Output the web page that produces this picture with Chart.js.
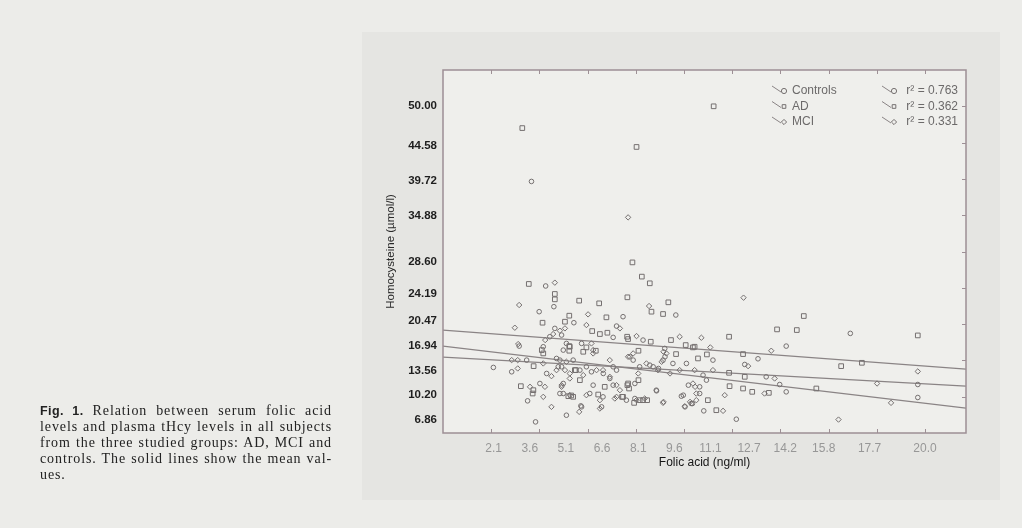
<!DOCTYPE html>
<html>
<head>
<meta charset="utf-8">
<script src="https://cdn.jsdelivr.net/npm/chart.js@4.4.1/dist/chart.umd.min.js"></script>
<style>
  html, body { margin: 0; padding: 0; }
  body { width: 1022px; height: 528px; background: #ecece9; position: relative; overflow: hidden; }
  #figbox { position: absolute; left: 362px; top: 32px; width: 638px; height: 468px; background: #e5e5e2; }
  #wrap { position: absolute; left: 0; top: 0; width: 1022px; height: 528px; }
  #caption {
    position: absolute; left: 40px; top: 403px; width: 292px;
    font-family: "Liberation Serif", "DejaVu Serif", serif; font-size: 14px; line-height: 16px; color: #222;
    letter-spacing: 0.9px;
  }
  #caption div { text-align: justify; text-align-last: justify; white-space: nowrap; }
  #caption div.last { text-align-last: left; }
  #caption b { font-family: "Liberation Sans", Arial, sans-serif; font-size: 12.5px; letter-spacing: 0.4px; }
</style>
</head>
<body>
<div id="figbox"></div>
<div id="wrap"><canvas id="chart" width="1022" height="528"></canvas></div>
<div id="caption">
  <div><b>Fig. 1.</b> Relation between serum folic acid</div>
  <div>levels and plasma tHcy levels in all subjects</div>
  <div>from the three studied groups: AD, MCI and</div>
  <div>controls. The solid lines show the mean val-</div>
  <div class="last">ues.</div>
</div>
<script>
/* ── Axis labels ─────────────────────────────────────────────── */
const xLabels = [2.1, 3.6, 5.1, 6.6, 8.1, 9.6, 11.1, 12.7, 14.2, 15.8, 17.7, 20.0];
const yLabels = [6.86, 10.20, 13.56, 16.94, 20.47, 24.19, 28.60, 34.88, 39.72, 44.58, 50.00];
const xMinor = [2, 4, 6, 8, 10, 12, 14, 16, 18, 20];
const yMinor = [10, 15, 20, 25, 30, 35, 40, 45, 50];

/* ── Groups / fits ───────────────────────────────────────────── */
const groupNames = ['Controls', 'AD', 'MCI'];
const rSquared = [0.763, 0.362, 0.331];
const fitX = [0, 21.7];
const fitControls = [16.97, 8.42];
const fitAD = [19.18, 13.8];
const fitMCI = [15.46, 11.45];

/* ── Subjects: [folic acid, homocysteine] ────────────────────── */
const adPoints = [
  [3.29, 47.0], [8.03, 44.4], [7.86, 28.5], [11.23, 50.0],
  [3.56, 25.53], [4.64, 24.15], [4.64, 23.41], [5.65, 23.23], [6.48, 22.86], [7.65, 23.69],
  [8.25, 26.54], [8.58, 25.62], [8.65, 21.71], [9.35, 23.0], [9.13, 21.39], [6.78, 20.93],
  [4.13, 20.19], [5.06, 20.33], [5.24, 21.16], [6.19, 19.04], [6.51, 18.63], [6.82, 18.81],
  [7.64, 18.26], [7.68, 17.94], [8.62, 17.57], [9.46, 17.80], [9.67, 15.87], [10.07, 17.11],
  [10.37, 16.79], [4.10, 16.42], [4.16, 15.96], [3.76, 14.21], [5.24, 16.97], [5.24, 16.33],
  [5.95, 16.79], [6.34, 16.33], [5.51, 13.66], [5.68, 12.28], [3.23, 11.45], [3.75, 10.90],
  [3.72, 10.44], [5.20, 10.07], [5.32, 10.17], [6.44, 10.30], [7.65, 11.59], [7.72, 11.13],
  [8.11, 12.28], [7.43, 9.98], [7.93, 9.15], [8.16, 9.52], [8.30, 9.52], [8.47, 9.52],
  [8.11, 16.33], [14.97, 21.11], [13.86, 19.27], [14.68, 19.18], [19.70, 18.44], [11.87, 18.26],
  [12.45, 15.87], [10.44, 16.88], [10.95, 15.82], [10.58, 15.27], [16.52, 14.21], [17.38, 14.67],
  [11.87, 13.29], [12.52, 12.74], [11.89, 11.45], [12.45, 11.13], [12.83, 10.67], [13.52, 10.53],
  [15.49, 11.13], [10.99, 9.52], [11.34, 8.14], [5.26, 16.88], [5.82, 16.19], [5.47, 13.66],
  [5.40, 9.98], [6.71, 11.36], [7.68, 11.82], [7.47, 9.98]
];

const controlPoints = [
  [4.26, 25.25], [4.60, 22.40], [7.47, 21.02], [9.66, 21.25], [3.99, 21.71], [5.43, 20.19],
  [7.20, 19.73], [7.06, 18.17], [8.30, 17.80], [9.20, 16.65], [3.16, 16.97], [4.43, 18.26],
  [4.64, 19.41], [4.92, 18.49], [4.16, 16.88], [3.47, 15.04], [2.85, 13.43], [2.09, 14.03],
  [4.30, 13.20], [5.12, 17.34], [5.75, 17.34], [4.85, 15.04], [5.40, 15.04], [5.68, 13.66],
  [4.92, 14.12], [5.95, 14.12], [6.65, 13.20], [7.06, 14.12], [7.20, 13.66], [7.89, 15.04],
  [8.16, 14.12], [8.72, 14.12], [9.13, 15.04], [9.54, 14.58], [10.10, 14.58], [3.51, 9.43],
  [4.02, 11.82], [4.85, 10.44], [4.99, 11.82], [5.72, 8.74], [5.12, 7.45], [6.09, 10.44],
  [6.58, 8.60], [7.06, 11.59], [7.96, 11.82], [7.61, 9.52], [8.86, 10.81], [9.89, 10.07],
  [10.30, 9.06], [3.84, 6.53], [16.90, 18.72], [14.24, 16.97], [13.07, 15.22], [11.20, 15.04],
  [12.52, 14.44], [13.41, 12.74], [13.97, 11.68], [19.70, 11.68], [14.24, 10.67], [12.17, 6.90],
  [19.70, 9.89], [10.82, 8.05], [10.65, 10.44], [10.35, 9.06], [10.79, 12.97], [10.93, 12.28],
  [10.65, 11.36], [9.21, 15.50], [8.94, 13.89], [10.18, 11.59], [9.97, 10.21], [10.04, 8.60],
  [3.67, 39.65], [4.99, 16.42], [4.71, 15.27], [4.78, 14.12], [6.16, 13.43], [6.92, 12.51],
  [4.99, 10.44], [6.23, 11.59], [6.64, 9.98], [7.96, 9.75], [5.75, 8.60], [8.58, 14.35],
  [8.85, 10.90]
];

const mciPoints = [
  [4.64, 25.71], [6.02, 21.34], [8.55, 22.49], [3.16, 22.63], [2.98, 19.50], [5.95, 19.87],
  [7.34, 19.41], [8.03, 18.35], [9.82, 18.26], [3.12, 17.25], [4.24, 17.80], [4.57, 18.63],
  [4.85, 19.09], [5.06, 19.41], [3.10, 15.04], [2.85, 15.04], [3.10, 13.89], [4.16, 14.58],
  [4.50, 12.83], [6.16, 17.34], [6.23, 15.96], [5.12, 14.81], [5.26, 13.20], [5.26, 12.51],
  [4.71, 13.66], [6.37, 13.66], [6.92, 15.04], [6.92, 12.74], [7.68, 15.50], [7.89, 15.96],
  [8.44, 14.58], [8.92, 13.66], [9.27, 15.96], [9.82, 13.66], [3.61, 11.36], [4.16, 9.98],
  [4.23, 11.36], [4.92, 11.36], [4.50, 8.60], [5.65, 7.91], [5.95, 10.21], [6.51, 9.52],
  [6.51, 8.37], [7.34, 10.90], [7.20, 9.98], [8.03, 9.52], [9.13, 9.15], [10.03, 8.69],
  [10.51, 10.44], [12.47, 23.64], [10.72, 18.12], [13.62, 16.33], [11.09, 16.79], [19.70, 13.48],
  [12.66, 14.21], [13.76, 12.51], [18.01, 11.82], [13.34, 10.44], [11.69, 10.21], [18.59, 9.15],
  [16.41, 6.85], [11.62, 8.05], [10.51, 9.52], [11.20, 13.66], [10.44, 13.66], [10.37, 11.82],
  [9.15, 16.19], [9.07, 14.81], [9.42, 13.20], [10.46, 11.36], [10.25, 9.29], [9.15, 9.29],
  [7.68, 34.7], [6.23, 16.42], [5.06, 13.66], [5.82, 12.97], [6.64, 13.66], [4.92, 11.59],
  [5.26, 10.21], [7.20, 11.59], [7.13, 9.75], [8.37, 9.75], [7.75, 15.50], [8.10, 13.20]
];

/* ── Styles ──────────────────────────────────────────────────── */
const MARK = '#757070';
const FIT = '#8a8485';
const FRAME = '#9d8f95';
const PLOT_BG = '#efefec';
const styles = [
  { style: 'circle', radius: 2.3 },
  { style: 'rect', radius: 3.3 },
  { style: 'rectRot', radius: 2.7 }
];

const toXY = pts => pts.map(p => ({ x: p[0], y: p[1] }));
const fitLine = ys => fitX.map((x, i) => ({ x, y: ys[i] }));

function scatterSet(label, pts, st) {
  return {
    type: 'scatter', label, data: toXY(pts),
    pointStyle: st.style, pointRadius: st.radius, pointHoverRadius: st.radius,
    borderColor: MARK, backgroundColor: 'rgba(0,0,0,0)', pointBorderWidth: 1
  };
}
function fitSet(label, ys) {
  return {
    type: 'line', label, data: fitLine(ys),
    borderColor: FIT, borderWidth: 1.2, pointRadius: 0, fill: false
  };
}

/* ── Frame, inward ticks and in-plot legend ──────────────────── */
const framePlugin = {
  id: 'frame',
  beforeDatasetsDraw(chart) {
    const { ctx, chartArea: a } = chart;
    ctx.save();
    ctx.fillStyle = PLOT_BG;
    ctx.fillRect(a.left, a.top, a.right - a.left, a.bottom - a.top);
    ctx.restore();
  },
  afterDatasetsDraw(chart) {
    const { ctx, chartArea: a, scales } = chart;
    ctx.save();
    ctx.strokeStyle = FRAME;
    ctx.lineWidth = 1.5;
    ctx.strokeRect(a.left, a.top, a.right - a.left, a.bottom - a.top);

    ctx.lineWidth = 1;
    ctx.beginPath();
    xMinor.forEach(v => {
      const px = Math.round(scales.x.getPixelForValue(v)) + 0.5;
      ctx.moveTo(px, a.bottom); ctx.lineTo(px, a.bottom - 4);
      ctx.moveTo(px, a.top); ctx.lineTo(px, a.top + 4);
    });
    yMinor.forEach(v => {
      const py = Math.round(scales.y.getPixelForValue(v)) + 0.5;
      ctx.moveTo(a.right, py); ctx.lineTo(a.right - 4, py);
    });
    ctx.stroke();

    // legend rows: names on the left column, r² on the right column
    ctx.font = '12px "Liberation Sans", Arial, sans-serif';
    ctx.textBaseline = 'middle';
    groupNames.forEach((name, g) => {
      const y = a.top + 21 + g * 15.5;
      const nx = a.right - 174;
      const rx = a.right - 8;
      [nx - 20, rx - 76].forEach(gx => {
        ctx.strokeStyle = FIT;
        ctx.lineWidth = 1;
        ctx.beginPath();
        ctx.moveTo(gx, y - 5); ctx.lineTo(gx + 9, y + 1);
        ctx.stroke();
        ctx.strokeStyle = MARK;
        ctx.fillStyle = PLOT_BG;
        Chart.helpers.drawPoint(ctx, { pointStyle: styles[g].style, radius: 2.6, borderWidth: 1 }, gx + 12, y);
      });
      ctx.fillStyle = '#6c6a6a';
      ctx.textAlign = 'left';
      ctx.fillText(name, nx, y);
      ctx.textAlign = 'right';
      ctx.fillText('r² = ' + rSquared[g].toFixed(3), rx, y);
    });
    ctx.restore();
  }
};

/* ── Chart ───────────────────────────────────────────────────── */
new Chart(document.getElementById('chart'), {
  data: {
    datasets: [
      scatterSet(groupNames[0], controlPoints, styles[0]),
      scatterSet(groupNames[1], adPoints, styles[1]),
      scatterSet(groupNames[2], mciPoints, styles[2]),
      fitSet(groupNames[0] + ' fit', fitControls),
      fitSet(groupNames[1] + ' fit', fitAD),
      fitSet(groupNames[2] + ' fit', fitMCI)
    ]
  },
  options: {
    responsive: false,
    animation: false,
    layout: { padding: { left: 380, top: 70, right: 56, bottom: 55 } },
    plugins: { legend: { display: false }, tooltip: { enabled: false } },
    scales: {
      x: {
        type: 'linear', min: 0, max: 21.7,
        afterBuildTicks: s => { s.ticks = xLabels.map(v => ({ value: v })); },
        afterFit: s => { s.height = 40; },
        grid: { display: false, drawTicks: false },
        border: { display: false },
        ticks: {
          autoSkip: false, maxRotation: 0, padding: 8, color: '#979797',
          font: { family: '"Liberation Sans", Arial, sans-serif', size: 12 },
          callback: v => Number(v).toFixed(1)
        },
        title: {
          display: true, text: 'Folic acid (ng/ml)', color: '#161616',
          font: { family: '"Liberation Sans", Arial, sans-serif', size: 12 },
          padding: { top: 0, bottom: 3 }
        }
      },
      y: {
        type: 'linear', min: 5, max: 55,
        afterBuildTicks: s => { s.ticks = yLabels.map(v => ({ value: v })); },
        afterFit: s => { s.width = 63; },
        grid: { display: false, drawTicks: false },
        border: { display: false },
        ticks: {
          autoSkip: false, padding: 6, color: '#1e1e1e',
          font: { family: '"Liberation Sans", Arial, sans-serif', size: 11.5, weight: 'bold' },
          callback: v => Number(v).toFixed(2)
        },
        title: {
          display: true, text: 'Homocysteine (µmol/l)', color: '#2a2a2a',
          font: { family: '"Liberation Sans", Arial, sans-serif', size: 11.5 },
          padding: { top: 4, bottom: 0 }
        }
      }
    }
  },
  plugins: [framePlugin]
});
</script>
</body>
</html>
